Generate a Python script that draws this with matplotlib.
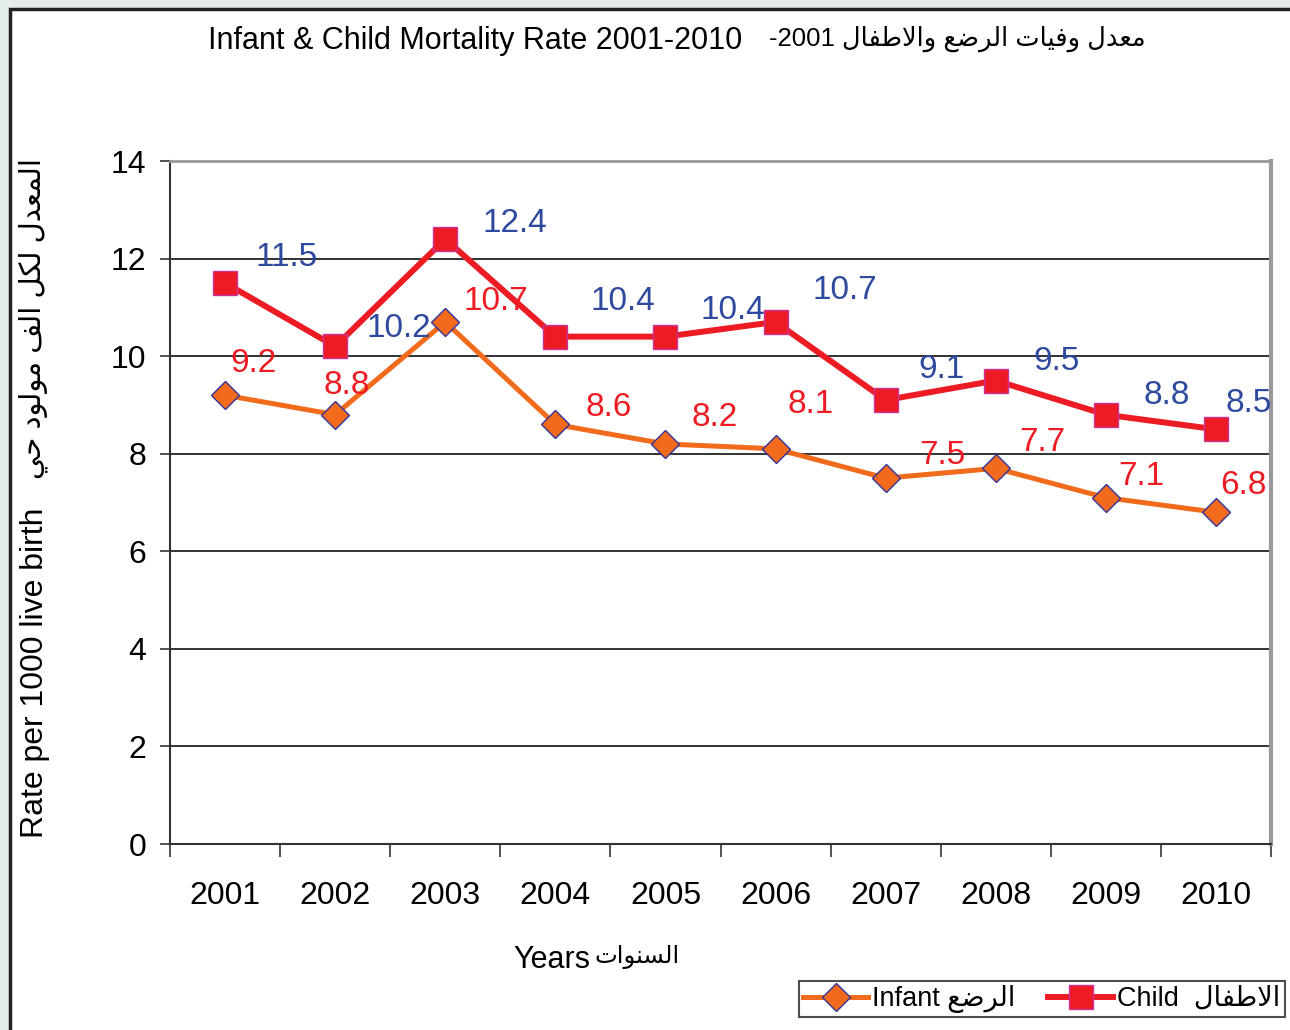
import matplotlib
matplotlib.use('Agg')
import matplotlib.pyplot as plt
from matplotlib.lines import Line2D
from matplotlib.patches import Rectangle

plt.rcParams['font.family'] = ['Liberation Sans', 'DejaVu Sans']

# data
years = ['2001', '2002', '2003', '2004', '2005', '2006', '2007', '2008', '2009', '2010']
child = [11.5, 10.2, 12.4, 10.4, 10.4, 10.7, 9.1, 9.5, 8.8, 8.5]
infant = [9.2, 8.8, 10.7, 8.6, 8.2, 8.1, 7.5, 7.7, 7.1, 6.8]
y_ticks = [0, 2, 4, 6, 8, 10, 12, 14]

# label offsets in pixels (dx, dy), as placed in the original chart
child_off = [(62, 25), (64, 18), (70, 16), (68, 35), (67, 26), (69, 31), (56, 31), (61, 19), (61, 19), (33, 26)]
infant_off = [(28, 32), (12, 29), (51, 20), (53, 17), (49, 26), (35, 44), (57, 23), (47, 26), (35, 21), (27, 27)]

# minimal arabic shaping (matplotlib has no bidi / joining)
DUAL = {'ب': 0xFE8F, 'ت': 0xFE95, 'ح': 0xFEA1, 'س': 0xFEB1, 'ض': 0xFEBD, 'ط': 0xFEC1,
        'ع': 0xFEC9, 'ف': 0xFED1, 'ك': 0xFED9, 'ل': 0xFEDD, 'م': 0xFEE1, 'ن': 0xFEE5, 'ي': 0xFEF1}
RIGHT = {'ا': 0xFE8D, 'د': 0xFEA9, 'ر': 0xFEAD, 'و': 0xFEED, '\ufefb': 0xFEFB}


def shape(text):
    text = text.replace('لا', '\ufefb')
    out = []
    for i, ch in enumerate(text):
        if ch not in DUAL and ch not in RIGHT:
            out.append(ch)
            continue
        prev = text[i - 1] if i > 0 else ''
        nxt = text[i + 1] if i + 1 < len(text) else ''
        jp = prev in DUAL
        jn = ch in DUAL and (nxt in DUAL or nxt in RIGHT)
        base = DUAL.get(ch, RIGHT.get(ch))
        if jp:
            off = 3 if jn else 1
        else:
            off = 2 if jn else 0
        out.append(chr(base + off))
    return ''.join(out[::-1])


RED = '#ED1C24'
ORANGE = '#F26A1B'
BLUE = '#2E4A9E'
W, H = 1290, 1030

fig = plt.figure(figsize=(12.9, 10.3), dpi=100)
fig.patch.set_facecolor('#E4ECE8')
fig.patches.append(Rectangle((10 / W, -0.05), 1.2, 1.05 - 9 / H, transform=fig.transFigure,
                             facecolor='white', edgecolor='#222222', linewidth=2.5, zorder=-5))

ax = fig.add_axes([170 / W, 186 / H, 1101 / W, 683 / H])
ax.set_facecolor('white')
x = list(range(1, len(years) + 1))

ax.set_xlim(0.5, len(years) + 0.5)
ax.set_ylim(0, 14)
ax.set_yticks(y_ticks)
ax.set_yticklabels([str(v) for v in y_ticks])
ax.set_xticks(x)
ax.set_xticklabels(years)
ax.set_xticks([i + 0.5 for i in range(len(years) + 1)], minor=True)
ax.tick_params(axis='x', which='major', length=0, pad=27, labelsize=23)
ax.tick_params(axis='x', which='minor', length=9, width=1.2, color='#333333')
ax.tick_params(axis='y', length=7, width=1.2, color='#333333', pad=10, labelsize=23)

for v in y_ticks[1:-1]:
    ax.axhline(v, color='#222222', linewidth=1.3, zorder=1)
ax.spines['top'].set_color('#999999')
ax.spines['top'].set_linewidth(2)
ax.spines['right'].set_color('#999999')
ax.spines['right'].set_linewidth(3)
ax.spines['left'].set_color('#333333')
ax.spines['left'].set_linewidth(1.5)
ax.spines['bottom'].set_color('#333333')
ax.spines['bottom'].set_linewidth(1.5)

ax.plot(x, infant, color=ORANGE, linewidth=3.6, marker='D', markersize=14,
        markerfacecolor=ORANGE, markeredgecolor='#333399', markeredgewidth=1, zorder=3)
ax.plot(x, child, color=RED, linewidth=4.3, marker='s', markersize=17,
        markerfacecolor=RED, markeredgecolor='#CC3399', markeredgewidth=1, zorder=4)

for xi, v, (dx, dy) in zip(x, child, child_off):
    ax.annotate(f'{v}', (xi, v), xytext=(dx, dy), textcoords='offset pixels',
                ha='center', va='center', color=BLUE, fontsize=24, zorder=5)
for xi, v, (dx, dy) in zip(x, infant, infant_off):
    ax.annotate(f'{v}', (xi, v), xytext=(dx, dy), textcoords='offset pixels',
                ha='center', va='center', color=RED, fontsize=24, zorder=5)

# title: english part and arabic part
fig.text(208 / W, 1 - 41 / H, 'Infant & Child Mortality Rate 2001-2010', ha='left', va='center', fontsize=22)
fig.text(1146 / W, 1 - 39 / H, '-2001 ' + shape('معدل وفيات الرضع والاطفال'),
         ha='right', va='center', fontsize=18.5)

# y label
fig.text(35 / W, 1 - 838 / H, 'Rate per 1000 live birth', ha='center', va='bottom',
         rotation=90, fontsize=23)
fig.text(33 / W, 1 - 158 / H, shape('المعدل لكل الف مولود حي'), ha='center', va='top',
         rotation=90, fontsize=21)

# x label
fig.text(513 / W, 1 - 960 / H, 'Years', ha='left', va='center', fontsize=22)
fig.text(680 / W, 1 - 957 / H, shape('السنوات'), ha='right', va='center', fontsize=17.5)

handles = [Line2D([], [], color=ORANGE, linewidth=3.6, marker='D', markersize=14,
                  markerfacecolor=ORANGE, markeredgecolor='#333399'),
           Line2D([], [], color=RED, linewidth=4.3, marker='s', markersize=17,
                  markerfacecolor=RED, markeredgecolor='#CC3399')]
leg = fig.legend(handles, ['Infant ' + shape('الرضع'), 'Child  ' + shape('الاطفال')],
                 ncol=2, loc='center', bbox_to_anchor=(1042 / W, 1 - 999 / H), fontsize=19.5,
                 frameon=True, fancybox=False, edgecolor='#222222', handlelength=2.4,
                 handletextpad=0.15, columnspacing=1.2, borderpad=0.15)
leg.get_frame().set_linewidth(1.5)

fig.savefig('out.png', dpi=100, facecolor=fig.get_facecolor())
